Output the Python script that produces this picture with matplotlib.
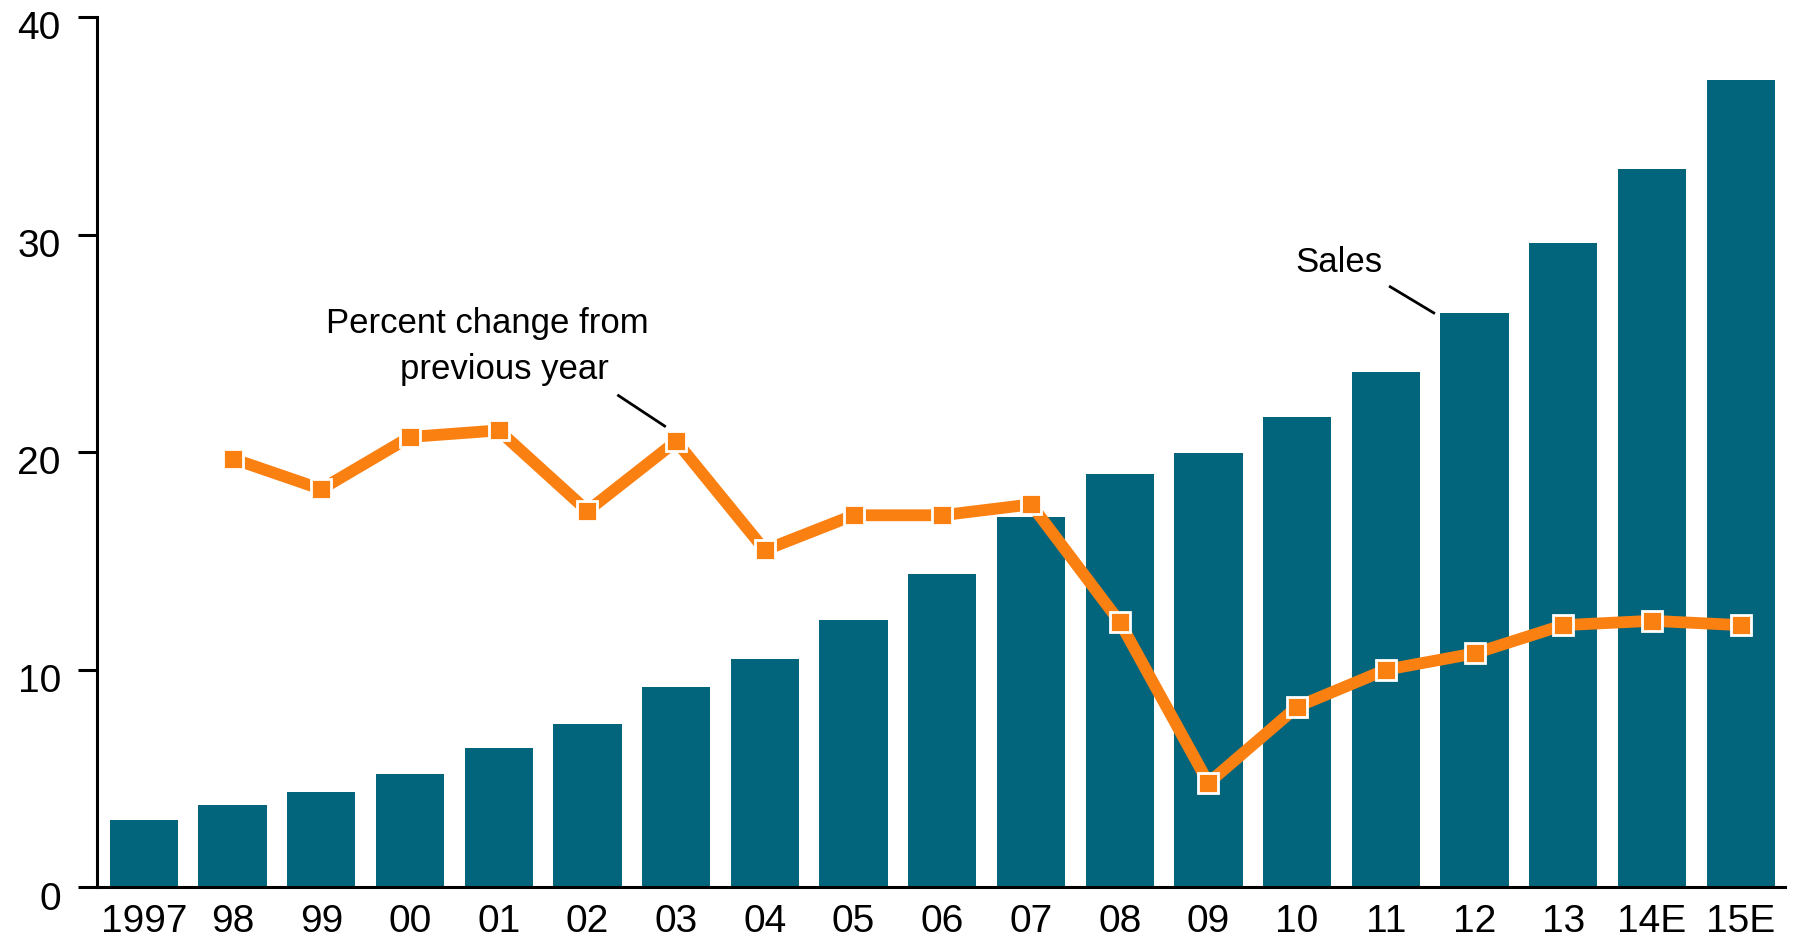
import matplotlib.pyplot as plt
import matplotlib.transforms as mtransforms

plt.rcParams['font.family'] = ['Liberation Sans', 'DejaVu Sans']

# Data
years = ['1997', '98', '99', '00', '01', '02', '03', '04', '05', '06',
         '07', '08', '09', '10', '11', '12', '13', '14E', '15E']
sales = [3.1, 3.8, 4.4, 5.2, 6.4, 7.5, 9.2, 10.5, 12.3, 14.4,
         17.0, 19.0, 19.95, 21.6, 23.7, 26.4, 29.6, 33.0, 37.1]
pct_change = [None, 19.7, 18.3, 20.7, 21.0, 17.3, 20.5, 15.5, 17.1, 17.1,
              17.6, 12.2, 4.8, 8.3, 10.0, 10.75, 12.05, 12.25, 12.05]
y_ticks = [0, 10, 20, 30, 40]

teal = '#03657B'
orange = '#FB8012'

fig = plt.figure(figsize=(17.94, 9.42), dpi=100)
ax = fig.add_axes([0.054, 0.058, 0.941, 0.924])

x = list(range(len(years)))
ax.bar(x, sales, width=0.77, color=teal, zorder=1)

# percent change line (no value for 1997)
lx = [i for i, v in zip(x, pct_change) if v is not None]
ly = [v for v in pct_change if v is not None]
ax.plot(lx, ly, color=orange, linewidth=8.5, zorder=2,
        marker='s', markersize=15, markerfacecolor=orange,
        markeredgecolor='white', markeredgewidth=2)

ax.set_xlim(-0.53, 18.5)
ax.set_ylim(0, 40)
ax.set_yticks(y_ticks)
ax.set_xticks(x)
ax.set_xticklabels(years)

for s in ['top', 'right']:
    ax.spines[s].set_visible(False)
for s in ['left', 'bottom']:
    ax.spines[s].set_linewidth(2.2)

ax.tick_params(axis='y', length=14, width=2.2, pad=12, labelsize=28)
ax.tick_params(axis='x', length=0, pad=12, labelsize=28)

# nudge y labels slightly down like the original
off = mtransforms.ScaledTranslation(0, -6 / 72, fig.dpi_scale_trans)
for lab in ax.get_yticklabels():
    lab.set_transform(lab.get_transform() + off)

# annotations
ax.text(3.87, 25.9, 'Percent change from', ha='center', va='center', fontsize=25)
ax.text(4.06, 23.8, 'previous year', ha='center', va='center', fontsize=25)
ax.plot([5.35, 5.87], [22.6, 21.2], color='black', linewidth=2, zorder=3)

ax.text(13.47, 28.7, 'Sales', ha='center', va='center', fontsize=25)
ax.plot([14.05, 14.54], [27.6, 26.4], color='black', linewidth=2, zorder=3)

fig.savefig('out.png', dpi=100)
